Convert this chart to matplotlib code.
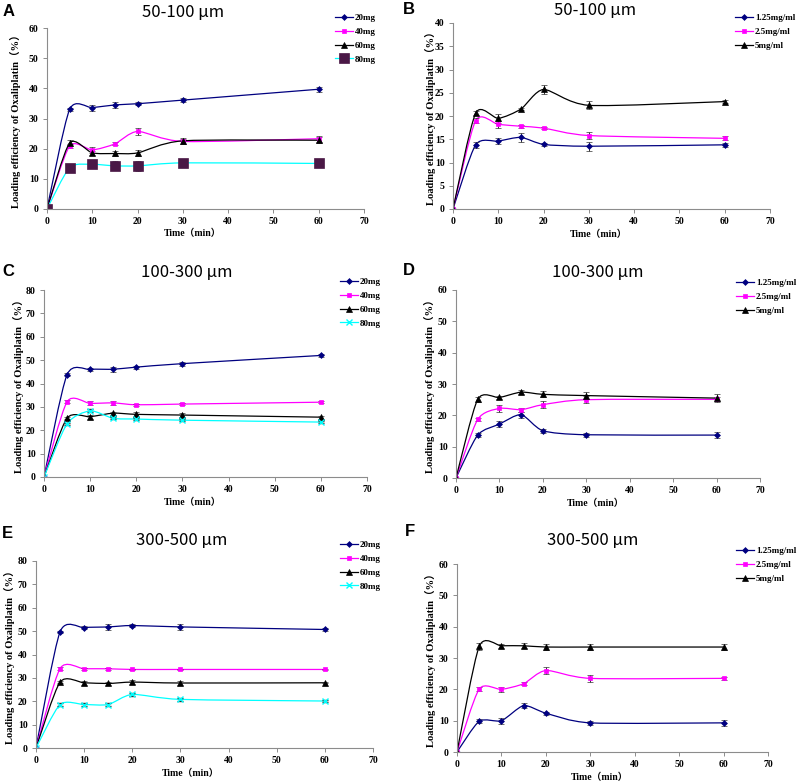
import numpy as np
import matplotlib
matplotlib.use("Agg")
import matplotlib.pyplot as plt
from matplotlib.path import Path
from matplotlib.patches import PathPatch
from matplotlib.lines import Line2D

# sampling times (min)
t = [0, 5, 10, 15, 20, 30, 60]

# A: 50-100 um, by mass
a_labels = ["20mg", "40mg", "60mg", "80mg"]
a_vals = [
    [0, 33.0, 33.6, 34.5, 34.9, 36.1, 39.7],
    [0, 20.9, 19.6, 21.6, 25.7, 22.4, 23.3],
    [0, 21.9, 18.6, 18.4, 18.6, 22.6, 22.8],
    [0, 13.7, 14.8, 14.3, 14.3, 15.3, 15.1],
]
a_err = [
    [0, 0.6, 1.0, 0.9, 0.5, 0.6, 0.9],
    [0, 0.8, 1.0, 0.5, 1.2, 0.8, 1.0],
    [0, 1.0, 0.6, 0.8, 1.0, 1.0, 1.0],
    [0, 0.6, 0.8, 1.5, 1.7, 0.5, 1.0],
]

# B: 50-100 um, by concentration
b_labels = ["1.25mg/ml", "2.5mg/ml", "5mg/ml"]
b_vals = [
    [0, 13.8, 14.6, 15.4, 13.9, 13.5, 13.8],
    [0, 19.0, 18.2, 17.8, 17.4, 15.8, 15.2],
    [0, 20.6, 19.5, 21.5, 25.7, 22.3, 23.1],
]
b_err = [
    [0, 0.6, 0.7, 0.9, 0.3, 1.0, 0.4],
    [0, 0.6, 0.7, 0.3, 0.3, 0.7, 0.4],
    [0, 0.4, 0.9, 0.3, 0.9, 0.9, 0.4],
]

# C: 100-300 um, by mass
c_vals = [
    [0, 43.8, 46.0, 46.1, 47.0, 48.5, 52.0],
    [0, 32.2, 31.5, 31.7, 30.9, 31.2, 32.0],
    [0, 25.2, 25.8, 27.3, 26.8, 26.5, 25.6],
    [0, 22.8, 28.3, 25.1, 24.8, 24.3, 23.5],
]
c_err = [
    [0, 0.5, 0.7, 1.0, 0.6, 0.8, 0.5],
    [0, 0.6, 0.8, 0.8, 0.5, 0.6, 0.5],
    [0, 0.5, 0.8, 0.6, 1.0, 1.0, 0.6],
    [0, 0.5, 0.7, 0.5, 0.5, 0.5, 0.5],
]

# D: 100-300 um, by concentration
d_vals = [
    [0, 13.7, 17.2, 20.2, 15.1, 13.8, 13.7],
    [0, 18.7, 22.2, 21.8, 23.4, 25.0, 25.1],
    [0, 25.1, 25.7, 27.4, 26.7, 26.3, 25.5],
]
d_err = [
    [0, 0.6, 1.0, 1.0, 0.6, 0.6, 0.9],
    [0, 0.5, 1.0, 0.6, 1.1, 1.2, 0.6],
    [0, 0.7, 0.6, 0.7, 1.0, 1.1, 1.2],
]

# E: 300-500 um, by mass
e_vals = [
    [0, 49.7, 51.5, 51.8, 52.4, 51.8, 50.7],
    [0, 34.0, 33.9, 33.9, 33.6, 33.6, 33.6],
    [0, 28.2, 27.9, 27.6, 28.2, 27.8, 27.9],
    [0, 18.6, 18.6, 18.6, 22.9, 20.8, 20.1],
]
e_err = [
    [0, 0.5, 0.8, 1.3, 0.5, 1.2, 0.5],
    [0, 0.5, 0.5, 0.5, 0.3, 0.3, 0.3],
    [0, 0.5, 0.8, 0.5, 1.0, 0.8, 0.3],
    [0, 0.5, 0.5, 0.5, 0.5, 0.5, 0.5],
]

# F: 300-500 um, by concentration
f_vals = [
    [0, 9.8, 10.0, 14.8, 12.4, 9.3, 9.3],
    [0, 20.1, 20.0, 21.8, 26.0, 23.5, 23.5],
    [0, 33.7, 33.9, 33.9, 33.5, 33.5, 33.5],
]
f_err = [
    [0, 0.7, 1.0, 0.8, 0.5, 0.6, 0.9],
    [0, 0.5, 0.9, 0.5, 1.0, 1.0, 0.5],
    [0, 1.2, 0.6, 0.8, 0.9, 1.1, 1.1],
]

NAVY = "#000080"
MAG = "#ff00ff"
CYAN = "#00ffff"
PURPLE = "#4a1846"

# (line colour, marker, marker face, marker size)
mass_styles = [(NAVY, "D", NAVY, 3), (MAG, "s", MAG, 3.5), ("black", "^", "black", 4), (CYAN, "x", CYAN, 4)]
mass_styles_a = mass_styles[:3] + [(CYAN, "s", PURPLE, 7)]
conc_styles = [(NAVY, "D", NAVY, 3), (MAG, "s", MAG, 3.5), ("black", "^", "black", 4)]

serif = ["Liberation Serif", "Noto Sans CJK SC"]
W, H = 800, 782


def smooth_path(x, y, k=0.12):
    pts = np.column_stack([x, y]).astype(float)
    n = len(pts)
    verts = [pts[0]]
    codes = [Path.MOVETO]
    for i in range(n - 1):
        p0 = pts[max(i - 1, 0)]
        p1 = pts[i]
        p2 = pts[i + 1]
        p3 = pts[min(i + 2, n - 1)]
        verts += [p1 + (p2 - p0) * k, p2 - (p3 - p1) * k, p2]
        codes += [Path.CURVE4] * 3
    return Path(verts, codes)


def panel(box, letter, title, title_xy, letter_xy, ylab_x, vals, errs, labels, styles, ymax, ystep, leg_xy):
    l, r, top, bot = box
    ax = fig.add_axes([l / W, 1 - bot / H, (r - l) / W, (bot - top) / H])
    for v, e, lab, (c, m, fc, ms) in zip(vals, errs, labels, styles):
        ax.add_patch(PathPatch(smooth_path(t, v), fill=False, edgecolor=c, lw=0.9))
        ax.errorbar(t, v, yerr=e, fmt=m, color=c, mfc=fc, mec=fc if m != "x" else c,
                    ms=ms, mew=1 if m == "x" else 0.5, ecolor="#333333", elinewidth=0.7,
                    capsize=2, capthick=0.7, linestyle="none")
    ax.set_xlim(0, 70)
    ax.set_ylim(0, ymax)
    ax.set_xticks(range(0, 71, 10))
    ax.set_yticks(np.arange(0, ymax + 0.1, ystep))
    for s in ["top", "right"]:
        ax.spines[s].set_visible(False)
    for s in ["left", "bottom"]:
        ax.spines[s].set_color("#8c8c8c")
        ax.spines[s].set_linewidth(0.8)
    ax.tick_params(direction="out", length=3, width=0.7, color="#8c8c8c", pad=3)
    for lbl in ax.get_xticklabels() + ax.get_yticklabels():
        lbl.set_family(serif)
        lbl.set_weight("bold")
        lbl.set_fontsize(7)
    ax.set_xlabel("Time（min）", family=serif, weight="bold", fontsize=7)
    ax.xaxis.set_label_coords(0.46, -0.11)
    ax.set_ylabel("Loading efficiency of Oxaliplatin（%）", family=serif, weight="bold", fontsize=7.6)
    ax.yaxis.set_label_coords((ylab_x - l) / (r - l), 0.5)
    ax.yaxis.label.set_va("center")
    fig.text(title_xy[0] / W, 1 - title_xy[1] / H, title, ha="center", va="center",
             family=["Noto Sans CJK SC", "DejaVu Sans"], fontsize=12)
    fig.text(letter_xy[0] / W, 1 - letter_xy[1] / H, letter, ha="left", va="center",
             family="Liberation Sans", weight="bold", fontsize=12)
    handles = [Line2D([], [], color=c, marker=m, mfc=fc, mec=fc if m != "x" else c,
                      ms=ms, lw=0.9, mew=1 if m == "x" else 0.5)
               for (c, m, fc, ms) in styles]
    ax.legend(handles, labels, loc="upper left", bbox_to_anchor=(leg_xy[0] / W, 1 - leg_xy[1] / H),
              bbox_transform=fig.transFigure, frameon=False, handlelength=2.0, handletextpad=0.2,
              labelspacing=0.6, borderpad=0, borderaxespad=0,
              prop={"family": serif, "weight": "bold", "size": 6.5})
    return ax


fig = plt.figure(figsize=(8, 7.82), dpi=100)

panel((47, 364, 28, 209), "A", "50-100 μm", (183, 13), (3, 12), 15, a_vals, a_err, a_labels,
      mass_styles_a, 60, 10, (335, 14))
panel((453, 770, 23, 209), "B", "50-100 μm", (595, 10), (403, 10), 430, b_vals, b_err, b_labels,
      conc_styles, 40, 5, (735, 14))
panel((44, 367, 290, 477), "C", "100-300 μm", (187, 272), (2, 271), 18, c_vals, c_err, a_labels,
      mass_styles, 80, 10, (340, 278))
panel((456, 760, 290, 478), "D", "100-300 μm", (598, 272), (403, 270), 429, d_vals, d_err, b_labels,
      conc_styles, 60, 10, (736, 279))
panel((36, 373, 561, 748), "E", "300-500 μm", (182, 540), (2, 533), 9, e_vals, e_err, a_labels,
      mass_styles, 80, 10, (340, 541))
panel((457, 768, 564, 752), "F", "300-500 μm", (593, 540), (405, 532), 430, f_vals, f_err, b_labels,
      conc_styles, 60, 10, (736, 547))

fig.savefig("out.png", dpi=100)
